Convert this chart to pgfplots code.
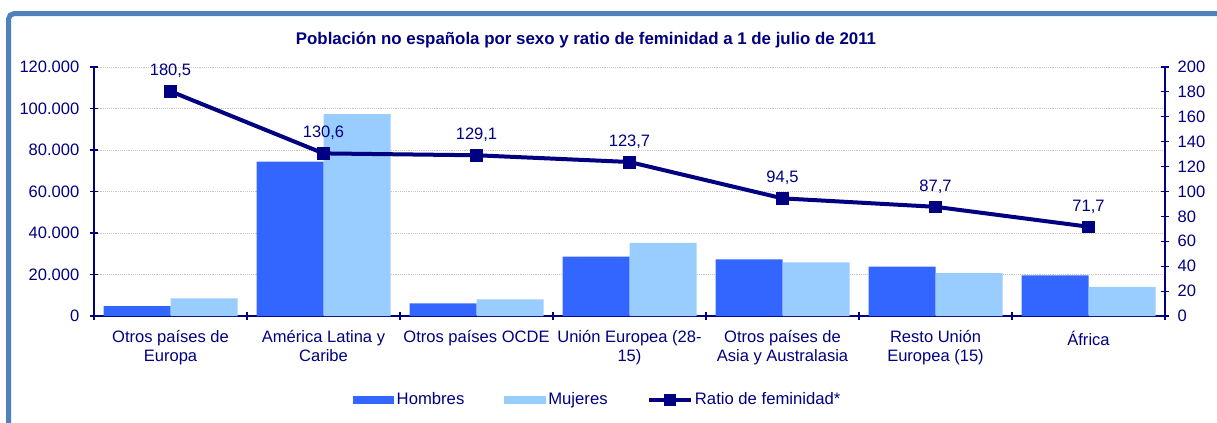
\documentclass[border=0pt]{standalone}
\usepackage{fontspec}
\setmainfont{Liberation Sans}
\usepackage{pgfplots}
\pgfplotsset{compat=1.18}
\definecolor{navytxt}{RGB}{0,0,128}
\definecolor{hom}{RGB}{51,102,255}
\definecolor{muj}{RGB}{153,204,255}
\definecolor{frameblue}{RGB}{79,129,189}
\begin{document}
\begin{tikzpicture}[font=\fontsize{12.4}{14}\selectfont]
\path[use as bounding box] (0,0) rectangle (912.75pt,-316.5pt);
\draw[frameblue, line width=3.75pt, rounded corners=4pt] (6.4pt,-340pt) -- (6.4pt,-10.3pt) -- (940pt,-10.3pt);
\node[navytxt, font=\bfseries\fontsize{12.65}{14}\selectfont] at (439.5pt,-30pt) {Población no española por sexo y ratio de feminidad a 1 de julio de 2011};
\begin{axis}[
  at={(70.5pt,-237pt)}, anchor=south west,
  scale only axis, width=803.25pt, height=186.75pt,
  xmin=-0.5, xmax=6.5, ymin=0, ymax=120000,
  axis x line*=bottom, axis y line*=left,
  axis line style={-, navytxt, line width=0.8pt},
  ybar=0pt, bar width=50.25pt,
  ytick={0,20000,...,120000}, scaled y ticks=false,
  yticklabel style={xshift=-4.5pt, /pgf/number format/.cd, fixed, 1000 sep={.}, assume math mode=true},
  ymajorgrids, grid style={gray!45, densely dotted, line width=0.6pt},
  xtick={0,...,6},
  xticklabels={Otros países de\\Europa, América Latina y\\Caribe, Otros países OCDE, Unión Europea (28-\\15), Otros países de\\Asia y Australasia, Resto Unión\\Europea (15), África},
  x tick label style={align=center, yshift=-4.5pt, font=\fontsize{12.4}{13.6}\selectfont},
  major x tick style={draw=none},
  minor xtick={-0.5,0.5,...,6.5},
  tick align=center, major tick length=6pt, minor tick length=6pt,
  tick style={navytxt, line width=0.8pt},
  tick label style={navytxt},
  xtick pos=bottom, ytick pos=left,
  legend style={at={(0.4705,-0.337)}, anchor=center, draw=none, fill=none,
    legend columns=3, font=\fontsize{12.5}{14}\selectfont, text=navytxt,
    /tikz/every even column/.append style={column sep=28pt},
    legend cell align=left},
]
\addplot[fill=hom, draw=none, legend image code/.code={\fill[hom] (0pt,-3pt) rectangle (31pt,3pt);}]
  coordinates {(0,4800) (1,74400) (2,6100) (3,28600) (4,27300) (5,23800) (6,19600)};
\addlegendentry{Hombres}
\addplot[fill=muj, draw=none, legend image code/.code={\fill[muj] (0pt,-3pt) rectangle (31pt,3pt);}]
  coordinates {(0,8500) (1,97300) (2,8000) (3,35300) (4,25900) (5,20700) (6,14000)};
\addlegendentry{Mujeres}
\addlegendimage{legend image code/.code={\draw[navytxt, line width=2.5pt] (0pt,0pt) -- (31pt,0pt); \fill[navytxt] (11.5pt,-4pt) rectangle (19.5pt,4pt);}}
\addlegendentry{Ratio de feminidad*}
\end{axis}
\begin{axis}[
  at={(70.5pt,-237pt)}, anchor=south west,
  scale only axis, width=803.25pt, height=186.75pt,
  xmin=-0.5, xmax=6.5, ymin=0, ymax=200,
  axis x line=none, axis y line*=right,
  axis line style={-, navytxt, line width=0.8pt},
  ytick={0,20,...,200},
  yticklabel style={xshift=3pt, /pgf/number format/assume math mode=true},
  tick align=center, major tick length=6pt,
  tick style={navytxt, line width=0.8pt},
  tick label style={navytxt},
  clip=false,
]
\addplot[navytxt, line width=3pt, mark=square*, mark size=4.4pt,
  mark options={line width=0.4pt},
  nodes near coords,
  every node near coord/.append style={navytxt, yshift=6.5pt, font=\fontsize{12.4}{14}\selectfont,
    /pgf/number format/.cd, fixed, fixed zerofill, precision=1, use comma, assume math mode=true}]
  coordinates {(0,180.5) (1,130.6) (2,129.1) (3,123.7) (4,94.5) (5,87.7) (6,71.7)};
\end{axis}
\end{tikzpicture}
\end{document}
